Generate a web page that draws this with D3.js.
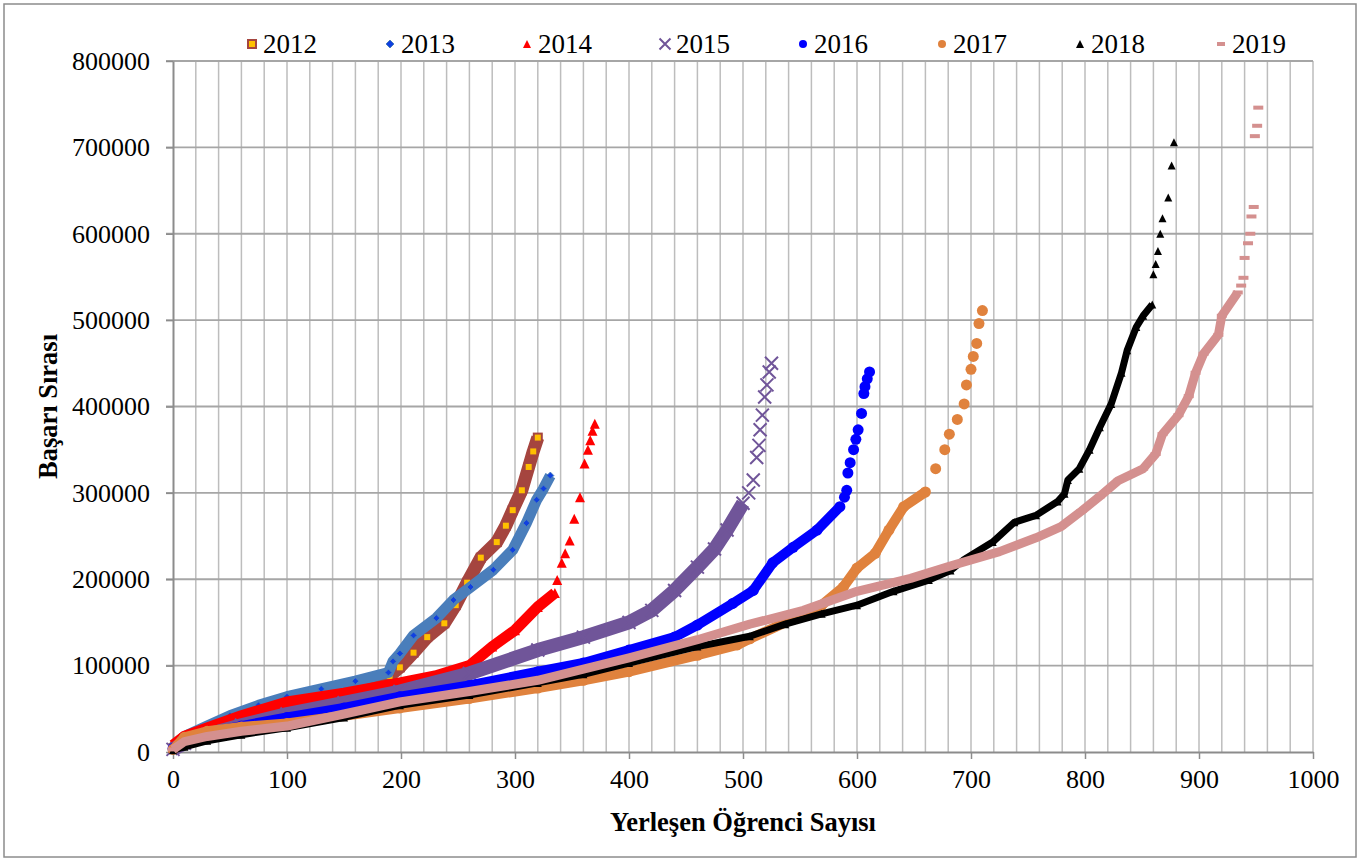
<!DOCTYPE html>
<html>
<head>
<meta charset="utf-8">
<style>
  body { margin: 0; background: #fff; }
  svg { font-family: "Liberation Serif", "Times New Roman", serif; }
</style>
</head>
<body>
<svg id="chart" width="1364" height="861"></svg>
<script src="https://cdnjs.cloudflare.com/ajax/libs/d3/7.8.5/d3.min.js"></script>
<script>
// values: [yerleşen öğrenci sayısı, başarı sırası]
// "t" arrays = the upper part where single markers stand apart
var years = ['2012', '2013', '2014', '2015', '2016', '2017', '2018', '2019']

var xTicks = [0, 100, 200, 300, 400, 500, 600, 700, 800, 900, 1000]
var yTicks = [0, 100000, 200000, 300000, 400000, 500000, 600000, 700000, 800000]

var s2012 = [[0,4000],[10,16000],[30,27000],[50,38000],[75,50000],[100,59000],[130,69000],[160,79000],[190,88000],[199,98000],[211,115000],[223,133000],[238,149000],[248,170000],[258,196000],[270,225000],[284,243000],[292,262000],[298,280000],[306,303000],[312,330000],[316,348000],[320,364000]]
var t2012 = []

var s2013 = [[0,5000],[10,18000],[30,30000],[50,42000],[75,54000],[100,64000],[130,73000],[160,82000],[189,92000],[193,105000],[199,114000],[211,135000],[231,155000],[246,176000],[261,191000],[281,211000],[298,234000],[310,265000],[319,292000],[325,305000],[331,320000]]
var t2013 = []

var s2014 = [[0,8000],[10,18000],[30,28000],[60,42000],[100,58000],[150,68000],[199,80000],[230,88000],[260,100000],[280,122000],[300,141000],[320,168000],[335,184000]]
var t2014 = [[337,199000],[341,219000],[344,230000],[348,245000],[352,270000],[357,295000],[361,334000],[364,350000],[366,361000],[368,372000],[370,380000]]

var s2015 = [[0,3000],[10,10000],[30,20000],[60,31000],[100,44000],[150,57000],[199,70000],[260,91000],[320,118000],[360,133000],[400,150000],[420,164000],[440,187000],[460,214000],[475,235000],[486,257000],[500,288000]]
var t2015 = [[505,300000],[509,315000],[512,341000],[514,355000],[515,373000],[517,390000],[519,411000],[521,425000],[523,440000],[525,450000]]

var s2016 = [[0,4000],[10,14000],[30,22000],[60,30000],[100,40000],[150,51000],[199,64000],[260,77000],[320,93000],[360,103000],[400,118000],[440,133000],[460,147000],[491,172000],[509,187000],[526,219000],[544,237000],[565,257000],[585,284000]]
var t2016 = [[589,295000],[591,303000],[592,323000],[594,335000],[597,350000],[599,362000],[601,373000],[604,392000],[606,415000],[607,423000],[609,432000],[611,440000]]

var s2017 = [[0,3000],[10,17000],[30,24000],[60,29000],[100,33000],[150,42000],[199,51000],[260,62000],[320,74000],[360,83000],[400,93000],[460,112000],[495,124000],[506,131000],[537,150000],[569,170000],[588,191000],[600,213000],[616,230000],[628,257000],[641,284000],[660,301000]]
var t2017 = [[669,328000],[677,350000],[681,368000],[688,385000],[694,403000],[696,425000],[700,443000],[702,458000],[705,473000],[707,496000],[710,511000]]

var s2018 = [[0,2000],[10,6000],[30,13000],[60,20000],[100,28000],[150,40000],[199,54000],[260,66000],[320,80000],[360,90000],[400,103000],[460,122000],[506,134000],[537,148000],[569,160000],[600,170000],[632,186000],[663,199000],[682,210000],[694,223000],[719,243000],[738,266000],[757,274000],[776,290000],[782,299000],[785,315000],[795,328000],[804,350000],[813,376000],[823,403000],[832,439000],[837,465000],[845,492000],[851,505000],[859,518000]]
var t2018 = [[860,553000],[862,565000],[864,580000],[866,600000],[868,618000],[873,642000],[876,679000],[878,706000]]

var s2019 = [[0,3000],[10,12000],[30,18000],[60,24000],[100,30000],[150,44000],[199,58000],[260,70000],[320,83000],[360,96000],[400,109000],[460,130000],[506,148000],[553,164000],[600,186000],[647,201000],[681,215000],[725,232000],[757,248000],[779,261000],[797,279000],[813,296000],[829,314000],[851,328000],[862,345000],[868,368000],[882,390000],[891,412000],[897,439000],[904,461000],[917,483000],[920,505000],[934,532000]]
var t2019 = [[937,540000],[939,549000],[940,572000],[943,589000],[945,600000],[946,620000],[948,631000],[949,713000],[951,725000],[952,746000]]

// looks of each series (marker shape, colours, band width)
var looks = {
  '2012': {dense: s2012, tail: t2012, shape: 'square', fill: '#ffc000', stroke: '#a5453f', band: 13, size: 8},
  '2013': {dense: s2013, tail: t2013, shape: 'diamond', fill: '#1040e0', stroke: '#4a7ebb', band: 11, size: 7},
  '2014': {dense: s2014, tail: t2014, shape: 'triangle', fill: '#ff0000', stroke: '#ff0000', band: 11, size: 10},
  '2015': {dense: s2015, tail: t2015, shape: 'cross', fill: 'none', stroke: '#705599', band: 14, size: 13},
  '2016': {dense: s2016, tail: t2016, shape: 'circle', fill: '#0000ff', stroke: '#0000ff', band: 10, size: 11},
  '2017': {dense: s2017, tail: t2017, shape: 'circle', fill: '#e0823d', stroke: '#e0823d', band: 10, size: 11},
  '2018': {dense: s2018, tail: t2018, shape: 'triangle', fill: '#000000', stroke: '#000000', band: 7, size: 8},
  '2019': {dense: s2019, tail: t2019, shape: 'dash', fill: '#d4908f', stroke: '#d4908f', band: 9, size: 10}
}

var svg = d3.select('#chart')

var x = d3.scaleLinear().domain([0, 1000]).range([173, 1313])
var y = d3.scaleLinear().domain([0, 800000]).range([752, 61])

// outer frame
svg.append('rect')
  .attr('x', 4).attr('y', 4)
  .attr('width', 1352).attr('height', 853)
  .attr('fill', 'none')
  .attr('stroke', '#8c8c8c')
  .attr('stroke-width', 1.5)

// grid
svg.append('g')
  .selectAll('line')
  .data(d3.range(20, 1001, 20))
  .enter().append('line')
  .attr('x1', function(d) { return x(d) })
  .attr('x2', function(d) { return x(d) })
  .attr('y1', y(0))
  .attr('y2', y(800000))
  .attr('stroke', '#bdbdbd')
  .attr('stroke-width', 1.5)

svg.append('g')
  .selectAll('line')
  .data(yTicks.slice(1))
  .enter().append('line')
  .attr('x1', x(0) - 7)
  .attr('x2', x(1000))
  .attr('y1', function(d) { return y(d) })
  .attr('y2', function(d) { return y(d) })
  .attr('stroke', '#a6a6a6')
  .attr('stroke-width', 1.8)

// axes
var xAxis = svg.append('g')
  .attr('transform', 'translate(0,' + y(0) + ')')
  .call(d3.axisBottom(x).tickValues(xTicks).tickSize(7).tickSizeOuter(0).tickPadding(11).tickFormat(d3.format('d')))
var yAxis = svg.append('g')
  .attr('transform', 'translate(' + x(0) + ',0)')
  .call(d3.axisLeft(y).tickValues(yTicks).tickSize(7).tickSizeOuter(0).tickPadding(16).tickFormat(d3.format('d')))

;[xAxis, yAxis].forEach(function(ax) {
  ax.attr('font-family', null).attr('font-size', null)
  ax.select('.domain').attr('stroke', '#8c8c8c').attr('stroke-width', 2)
  ax.selectAll('.tick line').attr('stroke', '#8c8c8c').attr('stroke-width', 1.5)
  ax.selectAll('.tick text')
    .attr('fill', '#000')
    .style('font-family', '"Liberation Serif", serif')
    .style('font-size', '26px')
})

// axis titles
svg.append('text')
  .attr('x', (x(0) + x(1000)) / 2)
  .attr('y', 831)
  .attr('text-anchor', 'middle')
  .style('font-size', '26.5px')
  .style('font-weight', 'bold')
  .text('Yerleşen Öğrenci Sayısı')

svg.append('text')
  .attr('transform', 'translate(57,' + (y(0) + y(800000)) / 2 + ') rotate(-90)')
  .attr('text-anchor', 'middle')
  .style('font-size', '26.5px')
  .style('font-weight', 'bold')
  .text('Başarı Sırası')

function drawMarker(g, shape, s, fill, stroke) {
  var h = s / 2
  if (shape === 'square') {
    g.append('rect').attr('x', -h).attr('y', -h).attr('width', s).attr('height', s)
      .attr('fill', fill).attr('stroke', stroke).attr('stroke-width', 2)
  } else if (shape === 'diamond') {
    g.append('path').attr('d', 'M0,' + (-h) + 'L' + h + ',0L0,' + h + 'L' + (-h) + ',0Z')
      .attr('fill', fill).attr('stroke', stroke).attr('stroke-width', 1)
  } else if (shape === 'triangle') {
    g.append('path').attr('d', 'M0,' + (-h) + 'L' + h + ',' + h + 'L' + (-h) + ',' + h + 'Z')
      .attr('fill', fill)
  } else if (shape === 'cross') {
    g.append('path').attr('d', 'M' + (-h) + ',' + (-h) + 'L' + h + ',' + h + 'M' + h + ',' + (-h) + 'L' + (-h) + ',' + h)
      .attr('fill', 'none').attr('stroke', stroke).attr('stroke-width', 2)
  } else if (shape === 'circle') {
    g.append('circle').attr('r', h).attr('fill', fill)
  } else if (shape === 'dash') {
    g.append('rect').attr('x', -h).attr('y', -2).attr('width', s).attr('height', 4)
      .attr('fill', fill)
  }
}

var line = d3.line()
  .x(function(d) { return x(d[0]) })
  .y(function(d) { return y(d[1]) })

var plot = svg.append('g')

years.forEach(function(yr) {
  var lk = looks[yr]
  var g = plot.append('g')
  g.append('path')
    .datum(lk.dense)
    .attr('d', line)
    .attr('fill', 'none')
    .attr('stroke', lk.stroke)
    .attr('stroke-width', lk.band)
    .attr('stroke-linejoin', 'round')

  g.selectAll('g.m')
    .data(lk.dense.concat(lk.tail))
    .enter().append('g')
    .attr('class', 'm')
    .attr('transform', function(d) { return 'translate(' + x(d[0]) + ',' + y(d[1]) + ')' })
    .each(function() { drawMarker(d3.select(this), lk.shape, lk.size, lk.fill, lk.stroke) })
})

// legend
var legendX = [252, 390, 527, 665, 803, 942, 1080, 1221]
years.forEach(function(yr, i) {
  var lk = looks[yr]
  var m = svg.append('g').attr('transform', 'translate(' + legendX[i] + ',44)')
  drawMarker(m, lk.shape, lk.shape === 'cross' ? 11 : 8, lk.fill, lk.stroke)
  svg.append('text')
    .attr('x', legendX[i] + 11)
    .attr('y', 53)
    .style('font-size', '27px')
    .text(yr)
})
</script>
</body>
</html>
